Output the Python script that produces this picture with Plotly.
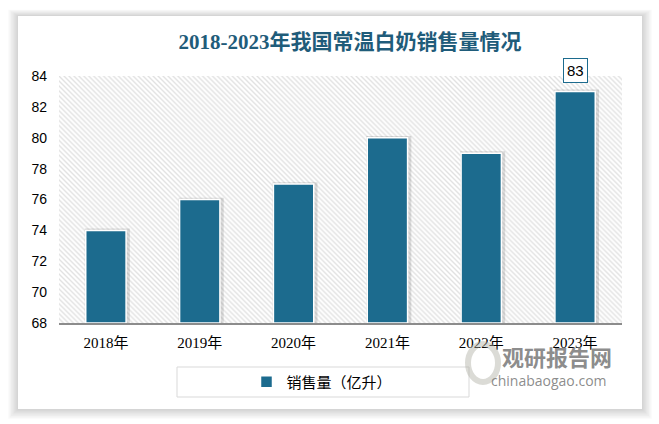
import plotly.graph_objects as go

# ---- data ----
categories = ["2018年", "2019年", "2020年", "2021年", "2022年", "2023年"]
sales = [74, 76, 77, 80, 79, 83]
series_name = "销售量（亿升）"
title_text = "2018-2023年我国常温白奶销售量情况"
y_min, y_max, y_step = 68, 84, 2

# ---- layout geometry (pixels) ----
W, H = 659, 424
L, R, T, B = 59, 622, 76, 323  # plot area edges


def px(x):
    return (x - L) / (R - L)


def py(y):
    return (B - y) / (B - T)


BAR_COLOR = "#1C6B8E"
BAR_W = 0.43

fig = go.Figure()

# hatched plot background (decorative band across the value range)
fig.add_trace(go.Bar(
    x=[0.5], y=[y_max - y_min], base=[y_min], width=[1.0],
    xaxis="x", yaxis="y",
    marker=dict(color="rgba(255,255,255,0)", line=dict(width=0),
                pattern=dict(shape="\\", fgcolor="#c4c4c4", bgcolor="#ffffff",
                             size=3.5, solidity=0.4)),
    hoverinfo="skip", showlegend=False,
))

# soft bar shadows
fig.add_trace(go.Bar(
    x=categories, y=[v - y_min + 0.12 for v in sales], base=y_min,
    xaxis="x2", yaxis="y",
    width=BAR_W + 0.05, offset=-(BAR_W + 0.05) / 2 + 0.015,
    marker=dict(color="rgba(0,0,0,0.13)", line=dict(width=0)),
    hoverinfo="skip", showlegend=False,
))

# data bars
fig.add_trace(go.Bar(
    x=categories, y=[v - y_min for v in sales], base=y_min,
    xaxis="x3", yaxis="y",
    name=series_name,
    marker=dict(color=BAR_COLOR, line=dict(color="white", width=1.5)),
    width=BAR_W,
    showlegend=True,
))

shapes = []
# card shadow
card = (18, 16, 642, 409)
for i in range(1, 8):
    shapes.append(dict(type="rect", xref="paper", yref="paper", layer="below",
                       x0=px(card[0] - i * 1.4), x1=px(card[2] + i * 1.4),
                       y0=py(card[3] + i * 1.4), y1=py(card[1] - i * 0.9),
                       fillcolor="rgba(0,0,0,0.022)", line=dict(width=0)))
shapes.append(dict(type="rect", xref="paper", yref="paper", layer="below",
                   x0=px(card[0]), x1=px(card[2]), y0=py(card[3]), y1=py(card[1]),
                   fillcolor="white", line=dict(width=0)))
# legend box
shapes.append(dict(type="rect", xref="paper", yref="paper", layer="below",
                   x0=px(177), x1=px(469), y0=py(397), y1=py(367),
                   fillcolor="white", line=dict(color="#d9d9d9", width=1)))
# watermark logo (light swirl)
shapes.append(dict(type="circle", xref="paper", yref="paper", layer="above",
                   x0=px(468), x1=px(498), y0=py(382), y1=py(344),
                   fillcolor="rgba(0,0,0,0)", line=dict(color="rgba(175,175,165,0.45)", width=6)))

annotations = [
    dict(x=categories[-1], y=sales[-1], xref="x3", yref="y", text=str(sales[-1]),
         showarrow=False, yanchor="bottom", yshift=8,
         font=dict(family="Liberation Sans", size=15, color="black"),
         bgcolor="white", bordercolor=BAR_COLOR, borderwidth=1, borderpad=3),
    dict(x=px(557), y=py(356), xref="paper", yref="paper", text="<b>观研报告网</b>",
         xanchor="center", yanchor="middle",
         showarrow=False, font=dict(family="Noto Sans CJK SC", size=22,
                                    color="rgba(110,110,110,0.8)")),
    dict(x=px(549), y=py(380), xref="paper", yref="paper", text="chinabaogao.com",
         xanchor="center", yanchor="middle",
         showarrow=False, font=dict(family="Open Sans", size=14,
                                    color="rgba(110,110,110,0.8)")),
]

cat_axis = dict(anchor="y", side="bottom", type="category", showgrid=False, zeroline=False,
                ticks="")

fig.update_layout(
    width=W, height=H,
    margin=dict(l=L, r=W - R, t=T, b=H - B, pad=0),
    paper_bgcolor="white",
    plot_bgcolor="rgba(0,0,0,0)",
    title=dict(text="<b>" + title_text + "</b>", x=px(350), xref="paper", xanchor="center",
               y=1 - 42 / H, yanchor="middle",
               font=dict(family="Liberation Serif, Noto Sans CJK SC", size=21, color="#1F5C7A")),
    xaxis=dict(range=[0, 1], visible=False, fixedrange=True),
    xaxis2=dict(overlaying="x", visible=False, **cat_axis),
    xaxis3=dict(overlaying="x", showline=True, linecolor="#8c8c8c", linewidth=1.5,
                tickfont=dict(family="Liberation Serif, Noto Sans CJK SC", size=15, color="black"),
                ticklabelstandoff=5, **cat_axis),
    yaxis=dict(range=[y_min, y_max], dtick=y_step, tick0=y_min, showgrid=False,
               zeroline=False, showline=False, ticks="",
               tickfont=dict(family="Liberation Sans", size=14, color="black"),
               ticklabelstandoff=11),
    legend=dict(orientation="h", x=px(322), y=py(382), xanchor="center", yanchor="middle",
                bgcolor="rgba(0,0,0,0)", borderwidth=0,
                font=dict(family="Noto Sans CJK SC", size=15, color="black")),
    shapes=shapes,
    annotations=annotations,
    showlegend=True,
)

fig.write_html("out.html", config={"displayModeBar": False},
               post_script="document.body.style.margin='0';")
